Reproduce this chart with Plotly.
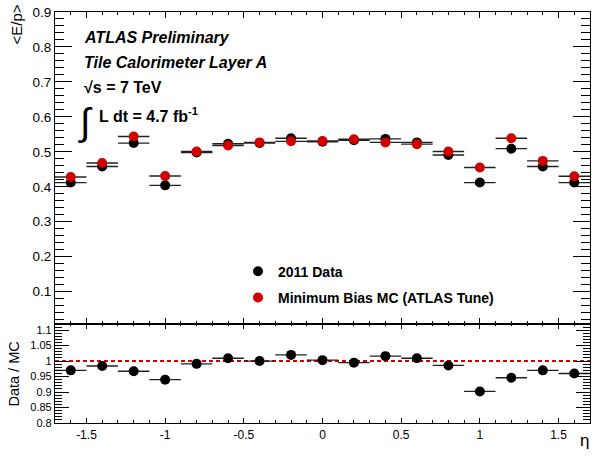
import plotly.graph_objects as go
from plotly.subplots import make_subplots

eta = [-1.6, -1.4, -1.2, -1.0, -0.8, -0.6, -0.4, -0.2, 0.0, 0.2, 0.4, 0.6, 0.8, 1.0, 1.2, 1.4, 1.6]
bin_half_width = [0.1] * len(eta)
data_ep = [0.412, 0.458, 0.525, 0.404, 0.498, 0.523, 0.525, 0.539, 0.529, 0.533, 0.537, 0.527, 0.491, 0.412, 0.509, 0.458, 0.412]
mc_ep = [0.428, 0.468, 0.544, 0.431, 0.501, 0.518, 0.527, 0.530, 0.531, 0.536, 0.527, 0.522, 0.501, 0.455, 0.539, 0.474, 0.430]
ratio = [0.970, 0.984, 0.967, 0.940, 0.991, 1.009, 1.000, 1.020, 1.003, 0.995, 1.016, 1.009, 0.986, 0.902, 0.946, 0.970, 0.960]

top_ticks = [0.1, 0.2, 0.3, 0.4, 0.5, 0.6, 0.7, 0.8, 0.9]
top_ticklabels = ["0.1", "0.2", "0.3", "0.4", "0.5", "0.6", "0.7", "0.8", "0.9"]
ratio_ticks = [0.8, 0.85, 0.9, 0.95, 1.0, 1.05, 1.1]
ratio_ticklabels = ["0.8", "0.85", "0.9", "0.95", "1", "1.05", "1.1"]
x_ticks = [-1.5, -1, -0.5, 0, 0.5, 1, 1.5]
x_ticklabels = ["-1.5", "-1", "-0.5", "0", "0.5", "1", "1.5"]

FONT = "Liberation Sans, Arial, Helvetica, sans-serif"
RED = "#d00000"

fig = make_subplots(rows=2, cols=1, shared_xaxes=True, vertical_spacing=0.0,
                    row_heights=[0.7582, 0.2418])

err = dict(type="data", array=bin_half_width, symmetric=True, color="#222222", thickness=1.4, width=0)

fig.add_trace(go.Scatter(x=eta, y=data_ep, mode="markers", name="<b>2011 Data</b>",
                         marker=dict(color="black", size=10), error_x=err,
                         legendgroup="a"), row=1, col=1)
fig.add_trace(go.Scatter(x=eta, y=mc_ep, mode="markers", name="<b>Minimum Bias MC (ATLAS Tune)</b>",
                         marker=dict(color=RED, size=10), error_x=err,
                         legendgroup="b"), row=1, col=1)
fig.add_trace(go.Scatter(x=eta, y=ratio, mode="markers", showlegend=False,
                         marker=dict(color="black", size=10), error_x=err), row=2, col=1)

fig.add_shape(type="line", xref="x2 domain", x0=0, x1=1, yref="y2", y0=1, y1=1,
              line=dict(color=RED, width=2, dash="4px,3px"), layer="below")

axis_common = dict(showline=True, linecolor="black", linewidth=1.2, mirror="allticks",
                   ticks="inside", tickcolor="black", showgrid=False, zeroline=False)

fig.update_xaxes(range=[-1.7, 1.7], tickvals=x_ticks, ticktext=x_ticklabels, **axis_common)
fig.update_xaxes(row=1, col=1, showticklabels=False, ticklen=6, tickwidth=1,
                 minor=dict(dtick=0.1, tick0=0, ticks="inside", ticklen=3, tickcolor="black", showgrid=False))
fig.update_xaxes(row=2, col=1, ticklen=5, tickwidth=1,
                 tickfont=dict(family=FONT, size=12, color="black"),
                 minor=dict(dtick=0.1, tick0=0, ticks="inside", ticklen=2.5, tickcolor="black", showgrid=False))

fig.update_yaxes(row=1, col=1, range=[0.0085, 0.9], tickvals=top_ticks, ticktext=top_ticklabels,
                 ticklen=17, tickwidth=1, tickfont=dict(family=FONT, size=13.5, color="black"),
                 minor=dict(dtick=0.02, tick0=0, ticks="inside", ticklen=9, tickcolor="black", showgrid=False),
                 **axis_common)
fig.update_yaxes(row=2, col=1, range=[0.8, 1.121], tickvals=ratio_ticks, ticktext=ratio_ticklabels,
                 ticklen=14, tickwidth=1, tickfont=dict(family=FONT, size=11, color="black"),
                 minor=dict(dtick=0.01, tick0=0, ticks="inside", ticklen=7, tickcolor="black", showgrid=False),
                 **axis_common)

def px_x(p):
    return (p - 55) / 535.0
def px_y(p):
    return (423.5 - p) / 411.5

ann = [
    ("<b><i>ATLAS Preliminary</i></b>", 82, 38, 16),
    ("<b><i>Tile Calorimeter Layer A</i></b>", 82, 62.5, 16),
    ("<b>√s = 7 TeV</b>", 82, 87.5, 16),
    ("∫", 76, 123, 38),
    ("<b>L dt = 4.7 fb<sup>-1</sup></b>", 97, 115, 16),
]

annotations = []
for text, ax, ay, size in ann:
    annotations.append(dict(xref="paper", yref="paper", xanchor="left", yanchor="middle",
                            showarrow=False, text=text, x=px_x(ax), y=px_y(ay),
                            font=dict(family=FONT, color="black", size=size)))

annotations.append(dict(xref="paper", yref="paper", text="<E/p>", x=px_x(16.5), y=px_y(25),
                        textangle=-90, showarrow=False, xanchor="center", yanchor="middle",
                        font=dict(family=FONT, size=15, color="black")))
annotations.append(dict(xref="paper", yref="paper", text="Data / MC", x=px_x(14), y=px_y(375),
                        textangle=-90, showarrow=False, xanchor="center", yanchor="middle",
                        font=dict(family=FONT, size=14.5, color="black")))
annotations.append(dict(xref="paper", yref="paper", text="η", x=px_x(584), y=px_y(441),
                        showarrow=False, xanchor="center", yanchor="middle",
                        font=dict(family=FONT, size=17, color="black")))

fig.update_layout(
    width=595, height=456,
    margin=dict(l=55, r=5, t=12, b=32.5),
    paper_bgcolor="white", plot_bgcolor="white",
    font=dict(family=FONT, color="black"),
    annotations=annotations,
    showlegend=True,
    legend=dict(x=px_x(238), y=px_y(256), xanchor="left", yanchor="top",
                font=dict(family=FONT, size=14, color="black"),
                bgcolor="rgba(0,0,0,0)", traceorder="grouped", tracegroupgap=5,
                itemwidth=30),
)

fig.write_html("out.html", config={"displayModeBar": False},
               post_script="document.body.style.margin='0';")
